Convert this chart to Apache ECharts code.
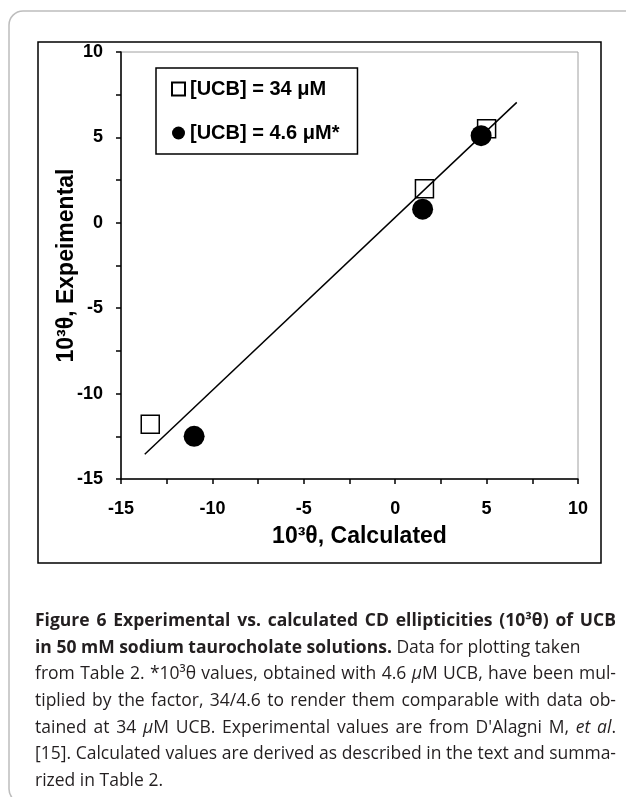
<!DOCTYPE html>
<html><head><meta charset="utf-8">
<script src="https://cdn.jsdelivr.net/npm/echarts@6/dist/echarts.min.js"></script>
<style>html,body{margin:0;padding:0;background:#fff}#c{width:626px;height:797px}</style>
</head><body><div id="c"></div>
<script>
// ---- data ----
const seriesNames = ['[UCB] = 34 μM', '[UCB] = 4.6 μM*'];
const ucb34 = [[-13.4, -11.8], [1.6, 2.0], [5.0, 5.5]];
const ucb46 = [[-11.0, -12.5], [1.5, 0.8], [4.7, 5.1]];
const fitLine = [[-13.7, -13.55], [6.65, 7.05]];
const xAxisTitle = '10³θ, Calculated';
const yAxisTitle = '10³θ, Expeimental';
const axisMin = -15, axisMax = 10, tickStep = 2.5, labelStep = 5;
const captionLines = [
  [['b', 'Figure 6 Experimental vs. calculated CD ellipticities (10³θ) of UCB']],
  [['b', 'in 50 mM sodium taurocholate solutions.'], ['r', ' Data for plotting taken']],
  [['r', 'from Table 2. *10³θ values, obtained with 4.6 '], ['i', 'μ'], ['r', 'M UCB, have been mul-']],
  [['r', 'tiplied by the factor, 34/4.6 to render them comparable with data ob-']],
  [['r', 'tained at 34 '], ['i', 'μ'], ['r', "M UCB. Experimental values are from D'Alagni M, "], ['i', 'et al'], ['r', '.']],
  [['r', '[15]. Calculated values are derived as described in the text and summa-']],
  [['r', 'rized in Table 2.']]
];
const justified = [true, false, true, true, true, true, false];

// ---- chart ----
const F = 'Liberation Sans';
const CF = 'Open Sans';
const capSize = 17.5;
const capColor = '#231f20';
const chart = echarts.init(document.getElementById('c'), null, {renderer: 'canvas'});
const tickFmt = v => (Math.abs(v % labelStep) < 1e-9 ? String(v) : '');

const capFonts = {
  b: 'bold ' + capSize + 'px "' + CF + '"',
  r: 'normal ' + capSize + 'px "' + CF + '"',
  i: 'italic ' + capSize + 'px "' + CF + '"'
};
const richStyles = {
  b: {fontFamily: CF, fontSize: capSize, fontWeight: 'bold', fill: capColor},
  r: {fontFamily: CF, fontSize: capSize, fill: capColor},
  i: {fontFamily: CF, fontSize: capSize, fontStyle: 'italic', fill: capColor}
};
const mctx = document.createElement('canvas').getContext('2d');
function measure(st, t) { mctx.font = capFonts[st]; return mctx.measureText(t).width; }

const graphics = [
  {type: 'rect', z: -10, shape: {x: 9, y: 11, width: 660, height: 792, r: 14},
   style: {fill: 'none', stroke: '#bdbdbd', lineWidth: 1.5}},
  {type: 'rect', z: -5, shape: {x: 38, y: 42, width: 563, height: 521},
   style: {fill: 'none', stroke: '#000', lineWidth: 1.5}}
];

const capLeft = 35, capWidth = 581, capTop = 621, capStep = 26.7;
captionLines.forEach((segs, li) => {
  const words = [];
  let cur = [];
  segs.forEach(([st, txt]) => {
    const parts = txt.split(' ');
    parts.forEach((p, k) => {
      if (k > 0) { if (cur.length) words.push(cur); cur = []; }
      if (p.length) cur.push([st, p]);
    });
  });
  if (cur.length) words.push(cur);
  const widths = words.map(w => w.reduce((a, [st, t]) => a + measure(st, t), 0));
  const total = widths.reduce((a, b) => a + b, 0);
  const gap = justified[li] && words.length > 1
    ? (capWidth - total) / (words.length - 1)
    : measure(li < 2 ? 'b' : 'r', ' ');
  let x = capLeft;
  words.forEach((w, k) => {
    graphics.push({
      type: 'text', x: x, y: capTop + li * capStep,
      style: {
        text: w.map(([st, t]) => '{' + st + '|' + t + '}').join(''),
        verticalAlign: 'middle', fill: capColor, rich: richStyles
      }
    });
    x += widths[k] + gap;
  });
});

const axisCommon = {
  type: 'value', min: axisMin, max: axisMax, interval: tickStep,
  axisLine: {onZero: false, lineStyle: {color: '#000', width: 1.5}},
  axisTick: {length: 5, lineStyle: {color: '#000', width: 1.5}},
  splitLine: {show: false},
  nameLocation: 'middle'
};

chart.setOption({
  backgroundColor: '#fff',
  animation: false,
  grid: {left: 121, right: 48, top: 52, bottom: 318, show: true, borderColor: '#a0a0a0', borderWidth: 1, outerBoundsMode: 'none'},
  xAxis: Object.assign({}, axisCommon, {
    axisLabel: {formatter: tickFmt, color: '#000', fontFamily: F, fontWeight: 'bold', fontSize: 18, margin: 21},
    name: xAxisTitle, nameGap: 46,
    nameTextStyle: {color: '#000', fontFamily: F, fontWeight: 'bold', fontSize: 23, padding: [0, 0, 0, 20]}
  }),
  yAxis: Object.assign({}, axisCommon, {
    axisLabel: {formatter: tickFmt, color: '#000', fontFamily: F, fontWeight: 'bold', fontSize: 18, margin: 18},
    name: yAxisTitle, nameGap: 43, nameMoveOverlap: false,
    nameTextStyle: {color: '#000', fontFamily: F, fontWeight: 'bold', fontSize: 23}
  }),
  legend: {
    left: 156, top: 68, orient: 'vertical', data: seriesNames, selectedMode: false,
    itemWidth: 13, itemHeight: 13, itemGap: 24, padding: [11, 18, 11, 15],
    borderColor: '#000', borderWidth: 1.5, backgroundColor: '#fff',
    textStyle: {fontFamily: F, fontWeight: 'bold', fontSize: 20, color: '#000', lineHeight: 20}
  },
  series: [
    {name: seriesNames[0], type: 'scatter', data: ucb34, symbol: 'rect', symbolSize: 18, z: 2,
     itemStyle: {color: '#fff', borderColor: '#000', borderWidth: 1.5, opacity: 1}},
    {name: 'fit', type: 'line', data: fitLine, symbol: 'none', z: 3, silent: true,
     lineStyle: {color: '#000', width: 1.5}},
    {name: seriesNames[1], type: 'scatter', data: ucb46, symbol: 'circle', symbolSize: 21, z: 4,
     itemStyle: {color: '#000', opacity: 1}}
  ],
  graphic: graphics
});
</script></body></html>
